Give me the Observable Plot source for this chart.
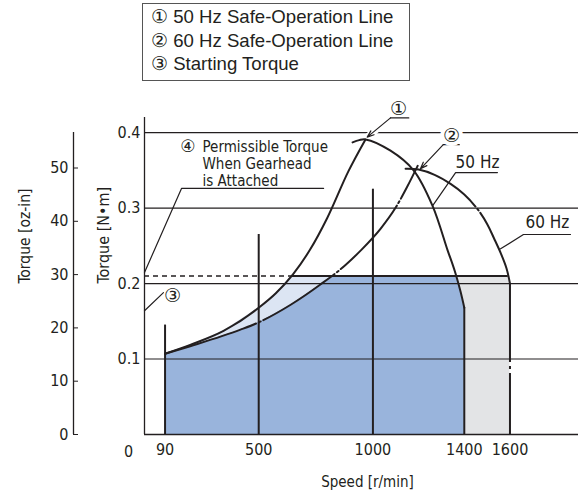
<!DOCTYPE html>
<html><head><meta charset="utf-8">
<script src="https://cdn.jsdelivr.net/npm/d3@7"></script>
<script src="https://cdn.jsdelivr.net/npm/@observablehq/plot@0.6"></script>
<style>
body{margin:0;background:#fff;}
#wrap{position:relative;width:581px;height:495px;overflow:hidden;}
#chart{position:absolute;left:0;top:0;}
#legend{position:absolute;left:142px;top:3px;width:268px;height:78px;border:1.3px solid #555;box-sizing:border-box;
  font-family:"Liberation Sans",Arial,sans-serif;font-size:18.6px;color:#231f20;padding:1px 0 0 8px;line-height:23.5px;background:#fff;white-space:nowrap;}
</style></head>
<body><div id="wrap"><div id="chart"></div><div id="legend"></div></div>
<script>
// ---- data (speed r/min, torque N·m) ----
const speedTicks = [90, 500, 1000, 1400, 1600];
const torqueTicks = [0.1, 0.2, 0.3, 0.4];
const ozTicks = [0, 10, 20, 30, 40, 50];
const legendItems = ["① 50 Hz Safe-Operation Line", "② 60 Hz Safe-Operation Line", "③ Starting Torque"];

const safe50 = [[90,0.107],[200,0.1187],[346,0.1372],[500,0.1679],[575,0.1871],[650,0.2122],[725,0.2450],[800,0.2869],[893,0.3490],[967,0.3907]];
const safe60 = [[90,0.107],[200,0.1170],[420,0.1389],[500,0.1486],[640,0.1719],[770,0.1987],[880,0.2246],[946,0.2436],[1034,0.2728],[1099,0.3003],[1150,0.3282],[1196,0.3560]];
const motor50 = [[911,0.387],[940,0.390],[968,0.391],[1077,0.376],[1178,0.350],[1261,0.303],[1327,0.244],[1348,0.226],[1362,0.213],[1383,0.190],[1400,0.168]];
const motor60 = [[1143,0.352],[1200,0.351],[1270,0.344],[1340,0.332],[1400,0.318],[1457,0.299],[1500,0.279],[1530,0.260],[1560,0.240],[1585,0.220],[1600,0.200]];
const permissibleTorque = 0.21;
const startingTorque = 0.164;
const verticalSpeeds = [90, 500, 1000, 1400, 1600];
const verticalTops = [0.145, 0.265, 0.325, 0.168, 0.200];

// annotation placement (data units)
const leaders = [
  [[0,0.2146],[162,0.326],[784,0.326]],            // ④
  [[0,startingTorque],[83,0.188]],                 // ③
  [[1545,0.347],[1362,0.347],[1261,0.303]],        // 50 Hz
  [[1865,0.265],[1659,0.265],[1559,0.246]],        // 60 Hz
  [[1077,0.4195],[1157,0.4195]],                   // ① underline
  [[1308,0.384],[1378,0.384]]                      // ② underline
];
const arrows = [
  {x1:1077, y1:0.4195, x2:975, y2:0.394},
  {x1:1308, y1:0.384, x2:1208, y2:0.352}
];
const circleNotes = [
  {text:"①", s:1112, t:0.432},
  {text:"③", s:123, t:0.184}
];
const smallCircleNotes = [{text:"④", s:190, t:0.381}];
const haloNotes = [{text:"②", s:1344, t:0.396}];
const gearNotes = [
  {text:"Permissible Torque", s:254, t:0.381},
  {text:"When Gearhead", s:254, t:0.358},
  {text:"is Attached", s:254, t:0.335}
];
const hzNotes = [
  {text:"50 Hz", s:1362, t:0.360},
  {text:"60 Hz", s:1668, t:0.281}
];

// ---- helpers ----
const OZ = 0.00706155;
const INK = "#231f20";
const FONT = "'DejaVu Sans Condensed','Liberation Sans Narrow',sans-serif";
function lerp(pts, s) {
  for (let i = 0; i < pts.length - 1; i++) {
    const [s0,t0] = pts[i], [s1,t1] = pts[i+1];
    if (s >= s0 && s <= s1) return t0 + (t1 - t0) * (s - s0) / (s1 - s0);
  }
  return NaN;
}
function cross(pts, level) {
  for (let i = 0; i < pts.length - 1; i++) {
    const [s0,t0] = pts[i], [s1,t1] = pts[i+1];
    if ((t0 - level) * (t1 - level) <= 0 && t0 !== t1) return s0 + (level - t0) * (s1 - s0) / (t1 - t0);
  }
  return NaN;
}
const P = permissibleTorque;
const cSafe50 = cross(safe50, P), cSafe60 = cross(safe60, P), cMotor50 = cross(motor50, P), cMotor60 = cross(motor60, P);
const rows = pts => pts.map(([s,t]) => ({s,t}));

const blue = rows([...safe60.filter(d => d[0] < cSafe60), [cSafe60,P], [cMotor50,P], ...motor50.filter(d => d[0] > cMotor50)]);
const lbX = Array.from(new Set([...safe50.map(d=>d[0]).filter(s=>s<cSafe50), ...safe60.map(d=>d[0]).filter(s=>s<cSafe60), cSafe50, cSafe60])).sort((a,b)=>a-b);
const lightBlue = lbX.map(s => ({s, top: s < cSafe50 ? lerp(safe50, s) : P, bot: lerp(safe60, s)}));
const grey = rows([[cMotor50,P],[cMotor60,P], ...motor60.filter(d => d[0] > cMotor60)]);

const verticals = verticalSpeeds.map((s,i) => ({s, t: verticalTops[i]}));
const leaderRows = leaders.flatMap((pts,i) => pts.map(([s,t]) => ({s,t,id:i})));
const CURVE = "monotone-x";
const CIRCLE_FONT = "'DejaVu Sans',sans-serif";

const plot = Plot.plot({
  width: 581, height: 495,
  marginTop: 117, marginBottom: 61, marginLeft: 144, marginRight: 3,
  x: {domain: [0, 1900], label: null},
  y: {domain: [0, 0.42], label: null},
  style: {fontFamily: FONT, fontSize: "16px", color: INK, background: "white", overflow: "visible"},
  marks: [
    Plot.areaY(grey, {x:"s", y1:0, y2:"t", fill:"#e3e4e6"}),
    Plot.areaY(blue, {x:"s", y1:0, y2:"t", fill:"#99b4dc"}),
    Plot.areaY(lightBlue, {x:"s", y1:"bot", y2:"top", fill:"#dce5f3"}),
    Plot.ruleY(torqueTicks, {stroke:INK, strokeWidth:1.2}),
    Plot.ruleY([0], {stroke:INK, strokeWidth:1.3}),
    Plot.ruleX([0], {stroke:INK, strokeWidth:1.3}),
    Plot.ruleX([0], {y1:0, y2:0.4, dx:-71, stroke:INK, strokeWidth:1.3}),
    Plot.link(arrows.slice(0,1), {x1:"x1", y1:"y1", x2:"x2", y2:"y2", stroke:"white", strokeWidth:7}),
    Plot.ruleX(verticals.slice(0,4), {x:"s", y1:0, y2:"t", stroke:INK, strokeWidth:2}),
    Plot.ruleX(verticals.slice(4), {x:"s", y1:0, y2:"t", stroke:INK, strokeWidth:2, strokeDasharray:"61,4,3,4,300"}),
    Plot.ruleY([P], {x1:0, x2:cSafe50, stroke:INK, strokeWidth:1.6, strokeDasharray:"5,4"}),
    Plot.ruleY([P], {x1:cSafe50, x2:cMotor60, stroke:INK, strokeWidth:2}),
    Plot.line(rows(safe50), {x:"s", y:"t", stroke:INK, strokeWidth:2, curve:CURVE}),
    Plot.line(rows(safe60), {x:"s", y:"t", stroke:INK, strokeWidth:2, curve:CURVE, strokeDasharray:"96,3,2,3,85,3,2,3,85,3,2,3,300"}),
    Plot.line(rows(motor50), {x:"s", y:"t", stroke:INK, strokeWidth:2, curve:"catmull-rom"}),
    Plot.line(rows(motor60), {x:"s", y:"t", stroke:INK, strokeWidth:2, curve:"catmull-rom", strokeDasharray:"82,3,2,3,400"}),
    Plot.line(leaderRows, {x:"s", y:"t", z:"id", stroke:INK, strokeWidth:1.2}),
    Plot.arrow(arrows, {x1:"x1", y1:"y1", x2:"x2", y2:"y2", stroke:INK, strokeWidth:1.2, headLength:9, headAngle:40}),
    Plot.text(haloNotes, {x:"s", y:"t", text:"text", fontSize:19, fontFamily:CIRCLE_FONT, fill:INK, stroke:"white", strokeWidth:8}),
    Plot.text(circleNotes, {x:"s", y:"t", text:"text", fontSize:19, fontFamily:CIRCLE_FONT, fill:INK}),
    Plot.text(smallCircleNotes, {x:"s", y:"t", text:"text", fontSize:17, fontFamily:CIRCLE_FONT, fill:INK}),
    Plot.text(gearNotes, {x:"s", y:"t", text:"text", textAnchor:"start", fontSize:15, fill:INK}),
    Plot.text(hzNotes, {x:"s", y:"t", text:"text", textAnchor:"start", fontSize:17, fill:INK}),
    Plot.axisY(torqueTicks, {tickSize:0, tickPadding:4, tickFormat:d3.format(".1f"), label:null}),
    Plot.axisY(ozTicks.map(v => v * OZ), {anchor:"left", tickSize:-5, tickPadding:10, dx:-71, tickFormat:d => String(Math.round(d / OZ)), label:null, stroke:INK}),
    Plot.axisX(speedTicks, {tickSize:0, tickPadding:9, tickFormat:d => String(d), label:null}),
    Plot.text([0], {x:0, y:0, text:d => String(d), dx:-16, dy:17, fill:INK}),
    Plot.text(["Torque [N•m]"], {frameAnchor:"left", y:[0.2], text:d=>d, rotate:-90, dx:-41, fontSize:16, fill:INK}),
    Plot.text(["Torque [oz-in]"], {frameAnchor:"left", y:[0.2], text:d=>d, rotate:-90, dx:-119, fontSize:15.5, fill:INK}),
    Plot.text(["Speed [r/min]"], {frameAnchor:"bottom", text:d=>d, dx:6, dy:52, fontSize:15, fill:INK})
  ]
});
document.getElementById("chart").appendChild(plot);
document.getElementById("legend").innerHTML = legendItems.map(t => `<div>${t}</div>`).join("");
</script>
</body></html>
